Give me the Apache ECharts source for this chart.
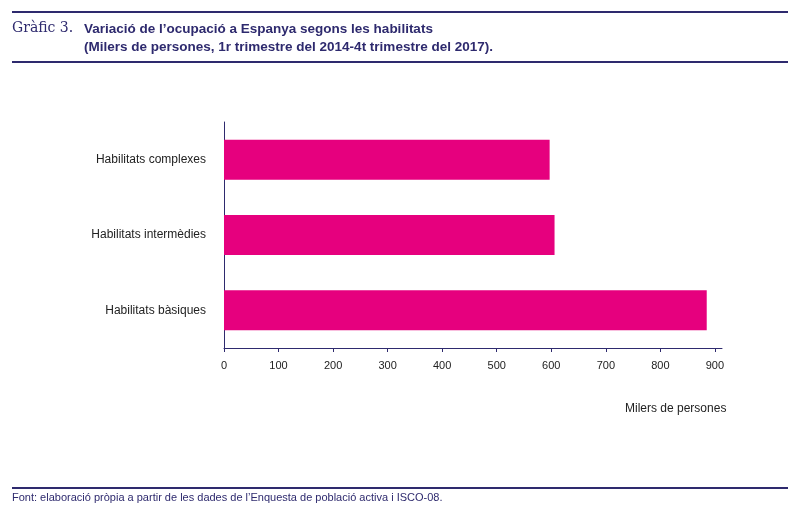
<!DOCTYPE html>
<html><head><meta charset="utf-8">
<script src="https://cdn.jsdelivr.net/npm/echarts@6/dist/echarts.min.js"></script>
<style>html,body{margin:0;padding:0;background:#fff}#c{width:800px;height:520px}</style>
</head><body><div id="c"></div>
<script>
const categories = ['Habilitats bàsiques','Habilitats intermèdies','Habilitats complexes'];
const values = [885, 606, 597];
const navy = '#2e2a6e';
const chart = echarts.init(document.getElementById('c'));
chart.setOption({
  animation:false,
  grid:{left:224,right:78,top:122,bottom:172},
  xAxis:{type:'value',min:0,max:913,interval:100,
    axisLine:{show:true,lineStyle:{color:navy}},
    axisTick:{show:true,length:4,lineStyle:{color:navy}},
    splitLine:{show:false},
    axisLabel:{showMaxLabel:false,color:'#222',fontFamily:'Liberation Sans',fontSize:11,margin:12,
      formatter:v=>v%100===0?String(v):''}},
  yAxis:{type:'category',data:categories,
    axisLine:{show:true,lineStyle:{color:navy}},axisTick:{show:false},
    axisLabel:{color:'#222',fontFamily:'Liberation Sans',fontSize:12,margin:18}},
  series:[{type:'bar',data:values,barWidth:40,itemStyle:{color:'#e6007e'}}],
  graphic:[
    {type:'rect',shape:{x:12,y:11,width:776,height:2},style:{fill:navy}},
    {type:'text',left:12,top:21,style:{text:'Gràfic 3.',font:'14px "DejaVu Serif", serif',fill:navy}},
    {type:'text',left:84,top:20,style:{text:'Variació de l’ocupació a Espanya segons les habilitats\n(Milers de persones, 1r trimestre del 2014-4t trimestre del 2017).',
      font:'bold 13.5px "Liberation Sans", sans-serif',fill:navy,lineHeight:18}},
    {type:'rect',shape:{x:12,y:61,width:776,height:2},style:{fill:navy}},
    {type:'text',left:625,top:403,style:{text:'Milers de persones',font:'12px "Liberation Sans", sans-serif',fill:'#222'}},
    {type:'rect',shape:{x:12,y:487,width:776,height:2},style:{fill:navy}},
    {type:'text',left:12,top:492,style:{text:'Font: elaboració pròpia a partir de les dades de l’Enquesta de població activa i ISCO-08.',font:'11px "Liberation Sans", sans-serif',fill:navy}}
  ]
});
</script></body></html>
